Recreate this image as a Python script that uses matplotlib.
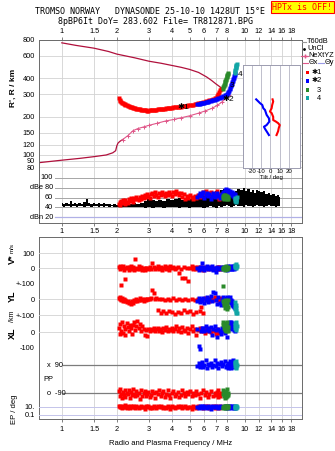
import matplotlib
matplotlib.use("Agg")
import matplotlib.pyplot as plt
import matplotlib.ticker as mticker
import matplotlib.transforms as mtrans
from matplotlib.lines import Line2D
from matplotlib.patches import Rectangle

plt.rcParams['font.family'] = ['Liberation Sans', 'DejaVu Sans']
plt.rcParams['font.size'] = 5.3

# ---------------------------------------------------------------- data
freq_ticks = [1, 1.5, 2, 3, 4, 5, 6, 7, 8, 10, 12, 14, 16, 18]
freq_labels = ['1', '1.5', '2', '3', '4', '5', '6', '7', '8', '10', '12', '14', '16', '18']
height_ticks = [80, 90, 100, 120, 150, 200, 300, 400, 600, 800]

# true-height profiles (MHz, km)
upper_f = [1.0, 1.2, 1.5, 1.8, 2.0, 2.5, 3.0, 3.5, 4.0, 4.5, 5.0, 5.6, 6.2, 6.6, 7.0, 7.4, 7.7]
upper_h = [760, 725, 690, 650, 620, 580, 545, 525, 505, 488, 470, 445, 410, 385, 360, 340, 326]
lower_f = [0.75, 1.0, 1.25, 1.5, 1.75, 1.9, 1.97, 2.0, 2.03, 2.08, 2.15]
lower_h = [87, 91, 94, 97, 100, 104, 108, 118, 124, 128, 132]
ne_f = [2.15, 2.3, 2.45, 2.6, 2.8, 3.0, 3.3, 3.7, 4.1, 4.5, 5.0, 5.6, 6.1, 6.6, 7.1, 7.5, 7.9, 8.2]
ne_h = [132, 142, 155, 161, 166, 171, 177, 185, 190, 196, 203, 213, 222, 232, 245, 260, 278, 295]

# echo class *1 (O mode)
red_f = [2.05, 2.07, 2.09, 2.11, 2.13, 2.16, 2.18, 2.21, 2.23, 2.26,
         2.29, 2.32, 2.35, 2.38, 2.41, 2.45, 2.48, 2.52, 2.55, 2.59,
         2.63, 2.67, 2.71, 2.75, 2.80, 2.84, 2.89, 2.93, 2.98, 3.03,
         3.08, 3.13, 3.18, 3.24, 3.29, 3.35, 3.41, 3.47, 3.53, 3.59,
         3.66, 3.72, 3.79, 3.86, 3.93, 4.00, 4.07, 4.15, 4.23, 4.31,
         4.39, 4.47, 4.56, 4.65, 4.74, 4.83, 4.93, 5.03, 5.13, 5.23,
         5.34, 5.45, 5.56, 5.68, 5.80, 5.92, 6.04, 6.17, 6.30, 6.43,
         6.57, 6.71, 6.85, 6.95, 7.05, 7.12, 7.20, 7.27, 7.33, 7.40]
red_h = [278, 270, 266, 262, 258, 255, 252, 250, 248, 246,
         244, 242, 240, 238, 236, 234, 233, 232, 231, 230,
         229, 228, 227, 226, 225, 224, 224, 223, 223, 224,
         224, 225, 226, 226, 227, 228, 228, 229, 230, 231,
         231, 232, 233, 233, 234, 235, 236, 236, 237, 238,
         239, 240, 241, 242, 243, 244, 245, 246, 248, 249,
         251, 252, 254, 256, 258, 260, 262, 264, 266, 268,
         271, 274, 278, 282, 288, 294, 302, 312, 322, 330]
red_db = [46, 50, 44, 52, 48, 54, 50, 47, 55, 51,
          49, 57, 53, 59, 55, 51, 60, 56, 62, 58,
          54, 61, 57, 63, 59, 66, 62, 68, 64, 60,
          67, 70, 64, 72, 66, 62, 69, 65, 71, 67,
          63, 70, 66, 72, 68, 64, 71, 67, 73, 69,
          65, 70, 62, 68, 58, 64, 60, 66, 62, 57,
          63, 59, 65, 61, 67, 72, 68, 74, 70, 66,
          72, 68, 64, 70, 73, 67, 62, 58, 66, 61]
red_vs = [8, -5, 12, -112, 3, 15, -8, 5, -69, 10,
          0, -12, 7, 18, -4, 9, -10, 58, 2, -6,
          12, -2, 6, -9, 3, -14, 5, 5, -3, 8,
          -7, 35, 10, -5, 4, 14, -2, 7, -10, 3,
          12, -4, 6, -8, 15, 0, 9, -6, 4, 11,
          -32, -3, -62, 8, -63, 5, -86, 3, 12, -5,
          7, -2, 10, -4, 6, -8, 3, 9, -5, 2,
          7, -3, 5, -6, 4, 8, -2, 6, -4, 3]
red_yl = [8, 2, 12, -5, 5, -10, -2, -15, -8, -20,
          -12, -25, -18, -30, -10, -22, -5, -15, 0, -10,
          -3, 4, -8, 0, -12, 2, -6, 3, -2, 0,
          5, 56, 38, -2, 4, -70, -2, -85, 3, -75,
          -5, -90, 2, -72, -6, -82, 4, -95, -3, -78,
          2, -88, -5, -70, 3, -84, -8, -76, 0, -92,
          -4, -80, 2, -72, -50, -86, 5, -3, 8, -10,
          4, -6, 10, -2, 6, -8, 3, -4, 7, 0]
red_xl = [30, -15, 55, 10, 70, -5, 40, 20, -18, 60,
          35, 5, 50, 25, -10, 45, 65, 15, 38, 72,
          28, 55, 8, 42, 20, -20, 12, -25, 18, 8,
          22, 14, 30, 5, 18, 25, 10, 20, 2, 28,
          15, 35, 8, 22, 12, 30, 5, 18, 40, 10,
          24, 2, 32, 15, 8, 26, -5, 18, 38, 10,
          22, -20, 14, 30, 4, 18, -8, 25, 10, 20,
          -2, 15, 8, -12, 20, 4, 12, -6, 10, 2]
red_pp = [-75, -105, -60, -95, -120, -80, -100, -68, -112, -88,
          -96, -72, -118, -84, -102, -65, -92, -110, -78, -98,
          -86, -124, -70, -104, -90, -76, -108, -94, -82, -114,
          -100, -74, -90, -118, -84, -96, -66, -106, -88, -78,
          -112, -94, -70, -100, -122, -86, -76, -104, -92, -80,
          -116, -98, -68, -88, -108, -82, -96, -74, -110, -90,
          -102, -78, -94, -120, -86, -70, -100, -84, -112, -92,
          -76, -106, -88, -98, -80, -114, -70, -94, -104, -85]
red_ep = [14, 8, 20, 11, 6, 16, 9, 25, 12, 7,
          18, 10, 5, 15, 9, 22, 12, 7, 17, 10,
          6, 13, 20, 8, 11, 4, 15, 9, 19, 7,
          12, 5, 16, 10, 6, 14, 8, 21, 11, 5,
          13, 7, 18, 9, 4, 15, 10, 6, 12, 20,
          8, 14, 5, 11, 17, 7, 13, 9, 4, 16,
          10, 6, 19, 8, 12, 5, 15, 9, 22, 7,
          11, 14, 6, 18, 10, 8, 13, 5, 16, 9]

# echo class *2 (X mode)
blue_f = [5.52, 5.60, 5.68, 5.76, 5.85, 5.94, 6.03, 6.12, 6.22, 6.32,
          6.42, 6.52, 6.63, 6.74, 6.85, 6.96, 7.07, 7.18, 7.30, 7.42,
          7.54, 7.66, 7.78, 7.90, 8.00, 8.08, 8.16, 8.24, 8.30, 8.36,
          8.42, 8.48, 8.53, 8.58, 8.63, 8.68, 8.73, 8.78, 8.84, 8.90]
blue_h = [251, 252, 253, 255, 256, 257, 258, 260, 261, 263,
          264, 266, 268, 270, 272, 274, 276, 278, 281, 284,
          287, 290, 294, 298, 302, 306, 312, 320, 328, 336,
          346, 356, 364, 372, 382, 392, 402, 414, 428, 442]
blue_db = [62, 66, 70, 64, 68, 72, 60, 65, 70, 63,
           67, 58, 64, 69, 61, 66, 70, 63, 60, 65,
           68, 72, 75, 78, 74, 70, 76, 72, 68, 74,
           70, 66, 72, 68, 64, 70, 66, 62, 68, 64]
blue_vs = [5, -8, 10, -3, 35, 6, -10, 2, 12, -5,
           8, -2, 14, -12, 4, -22, 9, -6, 3, 11,
           -4, 7, 0, 10, -8, 5, 12, -3, 8, 15,
           -6, 2, 10, -4, 18, 6, -2, 12, 4, 8]
blue_yl = [-10, 5, -20, 2, -15, 8, -25, -5, 12, -18,
           -2, 20, -12, 45, 38, -8, -30, 10, -22, -35,
           -5, 10, -15, 5, 15, 8, 0, -10, 12, -18,
           -5, -25, -15, -35, -28, -42, -50, -38, -55, -45]
blue_xl = [20, -95, -112, 10, 30, 25, 5, 38, 15, 28,
           8, 35, -20, 18, 42, 12, -30, 22, 6, -15,
           30, 10, -8, 40, -35, 15, 55, 25, 65, 35,
           70, 45, 20, 60, 30, 50, 15, 40, 25, 10]
blue_pp = [85, 100, 75, 95, 110, 80, 90, 120, 70, 98,
           88, 105, 76, 92, 125, 84, 100, 72, 96, 108,
           82, 94, 115, 78, 90, 102, 70, 88, 118, 85,
           96, 74, 104, 90, 122, 80, 98, 86, 110, 92]
blue_ep = [12, 6, 18, 9, 14, 5, 20, 10, 7, 15,
           11, 4, 16, 8, 13, 22, 9, 6, 17, 10,
           12, 8, 15, 5, 19, 11, 7, 14, 9, 21,
           6, 13, 10, 16, 8, 12, 5, 18, 11, 7]

# echo class 3
green_f = [7.62, 7.66, 7.70, 7.74, 7.78, 7.82, 7.86, 7.90, 7.94, 7.98, 8.02, 8.06, 8.10, 8.15]
green_h = [332, 340, 348, 356, 364, 372, 380, 389, 398, 407, 416, 424, 432, 440]
green_db = [60, 64, 58, 66, 62, 59, 65, 61, 63, 57, 64, 60, 62, 58]
green_vs = [5, -5, 10, 0, -8, 8, 3, -3, 12, -6, 4, -2, 7, 0]
green_yl = [80, -10, -25, -40, -5, -55, -30, -15, -45, -60, -20, -35, -50, -8]
green_xl = [70, 50, 30, 60, 15, 45, 25, 55, 10, 40, 20, 65, 35, 5]
green_pp = [-70, -95, -110, -80, -120, -88, -100, -75, -115, -92, -65, -105, -85, -98]
green_ep = [10, 6, 15, 8, 20, 12, 5, 14, 9, 18, 7, 11, 16, 8]

# echo class 4
cyan_f = [8.82, 8.86, 8.90, 8.93, 8.96, 8.99, 9.02, 9.06]
cyan_h = [440, 455, 468, 480, 492, 503, 512, 520]
cyan_db = [58, 52, 60, 55, 50, 57, 53, 61]
cyan_vs = [20, 8, 15, 25, 10, 18, 5, 12]
cyan_yl = [-20, -45, -60, -75, -85, -55, -35, -90]
cyan_xl = [60, 45, 30, 15, 70, 50, 25, 40]
cyan_pp = [110, 85, 100, 70, 95, 115, 80, 90]
cyan_ep = [12, 7, 16, 9, 20, 6, 14, 10]

# unclassified echo amplitude envelope (MHz, dB)
noise_f = [1.00, 1.03, 1.06, 1.09, 1.12, 1.15, 1.18, 1.21, 1.25, 1.29,
           1.33, 1.37, 1.41, 1.45, 1.50, 1.55, 1.60, 1.65, 1.70, 1.76,
           1.82, 1.88, 1.94, 2.00, 2.10, 2.20, 2.30, 2.40, 2.50, 2.62,
           2.75, 2.88, 3.00, 3.15, 3.30, 3.45, 3.60, 3.80, 4.00, 4.20,
           4.40, 4.60, 4.80, 5.00, 5.25, 5.50, 5.75, 6.00, 6.25, 6.50,
           6.75, 7.00, 7.25, 7.50, 7.75, 8.00, 8.25, 8.50, 8.75, 9.00,
           9.30, 9.60, 9.90, 10.2, 10.5, 10.8, 11.1, 11.4, 11.7, 12.0,
           12.4, 12.8, 13.2, 13.6, 14.0, 14.4, 14.8, 15.2, 15.6]
noise_hi = [48, 46, 49, 47, 52, 47, 49, 46, 48, 47,
            50, 57, 48, 46, 49, 47, 48, 46, 48, 46,
            47, 45, 47, 45, 46, 45, 47, 46, 48, 47,
            49, 52, 58, 54, 52, 55, 53, 56, 54, 57,
            59, 55, 58, 56, 60, 58, 62, 66, 72, 64,
            70, 73, 66, 75, 77, 79, 76, 72, 70, 74,
            78, 76, 79, 74, 77, 72, 75, 70, 76, 73,
            71, 74, 67, 70, 65, 68, 64, 66, 62]
noise_lo = [42, 41, 43, 42, 41, 42, 43, 41, 42, 42,
            41, 43, 42, 41, 42, 43, 41, 42, 41, 42,
            41, 42, 40, 41, 40, 41, 40, 41, 40, 41,
            40, 39, 40, 39, 41, 40, 39, 40, 41, 40,
            39, 41, 40, 39, 40, 41, 40, 39, 41, 42,
            40, 39, 42, 41, 43, 44, 42, 41, 43, 44,
            42, 43, 41, 44, 42, 43, 41, 42, 44, 42,
            43, 41, 42, 44, 42, 43, 41, 42, 43]

# tilt profiles (deg, km)
tilt1_deg = [2.3, 3.0, 1.9, 1.3, -0.5, 1.3, 3.0, 3.0, 5.9, 8.3, 10.1, 9.0, 8.3, 6.6]
tilt1_h = [270, 260, 244, 230, 217, 211, 197, 186, 181, 176, 170, 161, 152, 142]
tilt2_deg = [-15.4, -11.2, -8.8, -7.7, -5.9, -4.1, -1.6, -1.2, -4.1, -7.0, -5.9, -3.4, -1.6]
tilt2_h = [270, 252, 244, 230, 223, 204, 192, 181, 170, 165, 159, 149, 142]

RED, BLUE, GREEN, CYAN = '#ff0000', '#0000ff', '#2a8a2a', '#12a6a6'
CRIMSON, PINK = '#b0103c', '#e0588a'
GRID = '#d2d2d2'
FRAME = '#6a6a6a'

W, H = 335, 451
FMIN, FMAX = 0.75, 20.5
fig = plt.figure(figsize=(W / 100, H / 100), dpi=100)


def box(x0, y0, x1, y1):
    return [x0 / W, 1 - y1 / H, (x1 - x0) / W, (y1 - y0) / H]


def fx(x):
    return x / W


def fy(y):
    return 1 - y / H


def freq_axis(ax, labels=True, side='bottom', grid=True):
    ax.set_xscale('log')
    ax.set_xlim(FMIN, FMAX)
    ax.set_xticks(freq_ticks)
    ax.xaxis.set_minor_locator(mticker.NullLocator())
    if labels:
        ax.set_xticklabels(freq_labels)
    else:
        ax.set_xticklabels([])
    if side == 'top':
        ax.xaxis.tick_top()
    ax.tick_params(axis='x', length=2, width=0.6, pad=1.5, color=FRAME, labelsize=5.3)
    if grid:
        for f in freq_ticks:
            ax.axvline(f, color=GRID, lw=0.6, zorder=0)
    for s in ax.spines.values():
        s.set_color(FRAME)
        s.set_linewidth(0.7)


def dots(ax, f, v, color, ms=2.4):
    ax.plot(f, v, 's', ms=ms, color=color, mec='none', clip_on=False, zorder=3)


# ---------------------------------------------------------------- heights
ax_h = fig.add_axes(box(39, 40, 301.5, 170))
freq_axis(ax_h, side='top')
ax_h.set_yscale('log')
ax_h.set_ylim(76.2, 790)
ax_h.set_yticks(height_ticks)
ax_h.set_yticklabels([str(v) for v in height_ticks])
ax_h.yaxis.set_minor_locator(mticker.NullLocator())
ax_h.tick_params(axis='y', length=0, pad=3, labelsize=5.3)
ax_h.spines['bottom'].set_visible(False)
for v in height_ticks:
    ax_h.axhline(v, color=GRID, lw=0.6, zorder=0)

ax_h.plot(upper_f, upper_h, color=CRIMSON, lw=0.9, zorder=2)
ax_h.plot(lower_f, lower_h, color=CRIMSON, lw=0.9, zorder=2)
ax_h.plot(ne_f, ne_h, color=PINK, lw=0.8, marker='+', ms=3, mew=0.7, zorder=2)
dots(ax_h, red_f, red_h, RED, ms=3.4)
dots(ax_h, blue_f, blue_h, BLUE, ms=3.2)
dots(ax_h, green_f, green_h, GREEN, ms=3.0)
dots(ax_h, cyan_f, cyan_h, CYAN, ms=3.0)
for f, h, s in [(4.63, 236, '✱1'), (8.17, 272, '✱2'), (8.56, 350, '3'), (9.45, 431, '4')]:
    ax_h.text(f, h, s, fontsize=6, ha='center', va='center', zorder=5)

fig.text(fx(13), fy(88), "R', R / km", rotation=90, ha='center', va='center',
         fontsize=6, fontweight='bold')

# tilt inset
ax_in = fig.add_axes(box(242.7, 65, 300, 168))
ax_in.set_zorder(10)
ax_in.set_facecolor('white')
ax_in.set_xlim(-30, 32)
ax_in.set_yscale('log')
ax_in.set_ylim(78.5, 501)
ax_in.set_yticks([])
ax_in.yaxis.set_minor_locator(mticker.NullLocator())
ax_in.set_xticks([-20, -10, 0, 10, 20])
ax_in.set_xticklabels(['-20', '-10', '0', '10', '20'])
ax_in.tick_params(axis='x', length=0, pad=1, labelsize=4.3)
ax_in.set_xlabel('Tilt / deg', fontsize=4.3, labelpad=0.3)
for v in [-20, -10, 0, 10, 20]:
    ax_in.axvline(v, color='#b4b4c4', lw=0.6, zorder=0)
for s in ax_in.spines.values():
    s.set_color('#9c9cb0')
    s.set_linewidth(0.7)
ax_in.plot(tilt2_deg, tilt2_h, color=BLUE, lw=1.5)
ax_in.plot(tilt1_deg, tilt1_h, color=RED, lw=1.5)

# ---------------------------------------------------------------- amplitude
ax_db = fig.add_axes(box(39, 170, 301.5, 223))
freq_axis(ax_db)
ax_db.patch.set_visible(False)
ax_db.set_ylim(8.5, 115.6)
ax_db.set_yticks([])
ax_db.spines['top'].set_visible(False)
gx = (55 - 39) / 262.5
for v, c, lw in [(100, '#a6a6a6', 0.7), (80, '#a6a6a6', 0.7), (60, '#a6a6a6', 0.7),
                 (40, '#a6a6a6', 0.7), (20, '#b0b0e6', 0.9)]:
    ax_db.axhline(v, xmin=gx, color=c, lw=lw, zorder=1)
tr = mtrans.blended_transform_factory(ax_db.transAxes, ax_db.transData)
for v, s in [(100, '100'), (80, 'dBe 80'), (60, '60'), (40, '40'), (20, 'dBn 20')]:
    ax_db.text(gx - 0.007, v, s, transform=tr, ha='right', va='center', fontsize=5.3)
ax_db.fill_between(noise_f, noise_lo, noise_hi, step='mid', color='black', lw=0, zorder=2)
dots(ax_db, red_f, red_db, RED, ms=2.8)
dots(ax_db, blue_f, blue_db, BLUE, ms=2.8)
dots(ax_db, green_f, green_db, GREEN, ms=3.0)
dots(ax_db, cyan_f, cyan_db, CYAN, ms=3.0)

# ---------------------------------------------------------------- echo parameters
ax_lo = fig.add_axes(box(39, 237, 301.5, 419))
freq_axis(ax_lo)
ax_lo.set_yticks([])
ax_lo.tick_params(axis='x', pad=3)
ax_lo.set_xlabel('Radio and Plasma Frequency / MHz', fontsize=5.5, labelpad=5)


def sub(y0, y1, ylim, log=False):
    a = fig.add_axes(box(39, y0, 301.5, y1))
    a.set_xscale('log')
    a.set_xlim(FMIN, FMAX)
    if log:
        a.set_yscale('log')
    a.set_ylim(*ylim)
    a.patch.set_visible(False)
    for s in a.spines.values():
        s.set_visible(False)
    a.set_xticks([])
    a.xaxis.set_minor_locator(mticker.NullLocator())
    a.yaxis.set_minor_locator(mticker.NullLocator())
    a.tick_params(axis='y', length=0, pad=3, labelsize=5.3)
    return a


ax_vs = sub(237, 284, (-102.6, 204.6))
ax_vs.set_yticks([100, 0, -100])
ax_vs.set_yticklabels(['100', '0', '+-100'])
for v in [100, 0, -100]:
    ax_vs.axhline(v, color=GRID, lw=0.6, zorder=1)

ax_yl = sub(284, 316, (-106, 94))
ax_yl.set_yticks([0, -100])
ax_yl.set_yticklabels(['0', '+-100'])
for v in [0, -100]:
    ax_yl.axhline(v, color=GRID, lw=0.6, zorder=1)

ax_xl = sub(316, 347, (-100, 107))
ax_xl.set_yticks([0, -100])
ax_xl.set_yticklabels(['0', '-100'])
for v in [0, -100]:
    ax_xl.axhline(v, color=GRID, lw=0.6, zorder=1)

ax_pp = sub(347, 401, (-139, 205))
ax_pp.set_yticks([])
px = (63 - 39) / 262.5
for v in [90, -90]:
    ax_pp.axhline(v, xmin=px, color='#7c7c7c', lw=0.9, zorder=1)
trp = mtrans.blended_transform_factory(ax_pp.transAxes, ax_pp.transData)
ax_pp.text(0.030, 90, 'x  90', transform=trp, ha='left', va='center', fontsize=5.3)
ax_pp.text(0.030, -90, 'o  -90', transform=trp, ha='left', va='center', fontsize=5.3)
ax_pp.text(0.016, -5, 'PP', transform=trp, ha='left', va='center', fontsize=5.3)

ax_ep = sub(401, 419, (0.01, 316), log=True)
ax_ep.set_yticks([10, 0.1])
ax_ep.set_yticklabels(['10.', '0.1'])
for v in [10, 0.1]:
    ax_ep.axhline(v, color='#c4c4ea', lw=0.7, zorder=1)

for a, rv, bv, gv, cv in [(ax_vs, red_vs, blue_vs, green_vs, cyan_vs),
                          (ax_yl, red_yl, blue_yl, green_yl, cyan_yl),
                          (ax_xl, red_xl, blue_xl, green_xl, cyan_xl),
                          (ax_pp, red_pp, blue_pp, green_pp, cyan_pp),
                          (ax_ep, red_ep, blue_ep, green_ep, cyan_ep)]:
    dots(a, red_f, rv, RED)
    dots(a, blue_f, bv, BLUE)
    dots(a, green_f, gv, GREEN)
    dots(a, cyan_f, cv, CYAN)

fig.text(fx(12), fy(259), 'V*', rotation=90, ha='center', va='center', fontsize=6.5, fontweight='bold')
fig.text(fx(12), fy(248), 'm/s', rotation=90, ha='center', va='center', fontsize=4.5)
fig.text(fx(12), fy(296), 'YL', rotation=90, ha='center', va='center', fontsize=6.5, fontweight='bold')
fig.text(fx(13), fy(316), '/km', rotation=90, ha='center', va='center', fontsize=5)
fig.text(fx(12), fy(333), 'XL', rotation=90, ha='center', va='center', fontsize=6.5, fontweight='bold')
fig.text(fx(14), fy(409), 'EP / deg', rotation=90, ha='center', va='center', fontsize=5.5)

# ---------------------------------------------------------------- header
mono = 'DejaVu Sans Mono'
fig.text(fx(150), fy(12), 'TROMSO NORWAY   DYNASONDE 25-10-10 1428UT 15°E',
         family=mono, fontsize=6, ha='center', va='center')
fig.text(fx(155.5), fy(21), '8pBP6It DoY= 283.602 File= TR812871.BPG',
         family=mono, fontsize=6, ha='center', va='center')
fig.text(fx(302.5), fy(7), 'HPTx is OFF!', family=mono, fontsize=6, color='red',
         ha='center', va='center',
         bbox=dict(boxstyle='square,pad=0.15', fc='#ffff00', ec='red', lw=0.8))


# ---------------------------------------------------------------- key
def key_line(x0, x1, y, color):
    fig.add_artist(Line2D([fx(x0), fx(x1)], [fy(y), fy(y)], color=color, lw=0.8))


def key_text(x, y, s):
    fig.text(fx(x), fy(y), s, fontsize=5.3, ha='left', va='center')


key_line(302, 306, 41.5, '#999999')
key_text(307, 41.5, 'T60dB')
fig.add_artist(Line2D([fx(304)], [fy(48.5)], marker='.', ms=2, color='black', lw=0))
key_text(307, 48.5, 'UnCl')
fig.add_artist(Line2D([fx(301), fx(304.5), fx(308)], [fy(55.5)] * 3, color=PINK, lw=0.8,
                      marker='+', markevery=[1], ms=3))
key_text(308.5, 55.5, 'NeXtYZ')
key_line(303, 308, 63, PINK)
key_text(308.5, 63, 'Θx')
key_line(318, 324, 63, '#9a9ae6')
key_text(324.5, 63, 'Θy')
for y, c, s, tx in [(72.5, RED, '✱1', 311.5), (81, BLUE, '✱2', 311.5),
                    (90, GREEN, '3', 317), (98, CYAN, '4', 317)]:
    fig.add_artist(Rectangle((fx(306), fy(y + 1.7)), 3.4 / W, 3.4 / H, color=c, lw=0))
    key_text(tx, y, s)

fig.savefig('out.png', dpi=100)
